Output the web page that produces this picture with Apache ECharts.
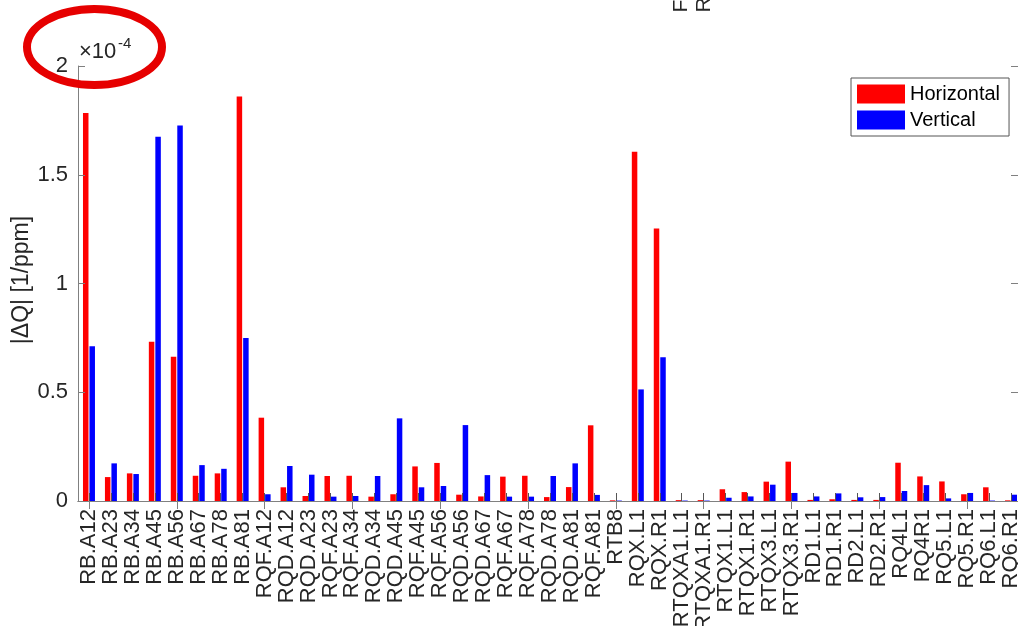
<!DOCTYPE html>
<html>
<head>
<meta charset="utf-8">
<script src="https://cdn.jsdelivr.net/npm/echarts@6/dist/echarts.min.js"></script>
<style>
html,body{margin:0;padding:0;background:#fff;}
#chart{width:1018px;height:626px;}
</style>
</head>
<body>
<div id="chart"></div>
<script>
// Data (values in units of 1e-4 [1/ppm])
const categories = ["RB.A12","RB.A23","RB.A34","RB.A45","RB.A56","RB.A67","RB.A78","RB.A81",
  "RQF.A12","RQD.A12","RQD.A23","RQF.A23","RQF.A34","RQD.A34","RQD.A45","RQF.A45",
  "RQF.A56","RQD.A56","RQD.A67","RQF.A67","RQF.A78","RQD.A78","RQD.A81","RQF.A81",
  "RTB8","RQX.L1","RQX.R1","RTQXA1.L1","RTQXA1.R1","RTQX1.L1","RTQX1.R1","RTQX3.L1",
  "RTQX3.R1","RD1.L1","RD1.R1","RD2.L1","RD2.R1","RQ4L1","RQ4R1","RQ5.L1","RQ5.R1",
  "RQ6.L1","RQ6.R1"];
const horizontal = [1.784,0.110,0.127,0.732,0.663,0.116,0.127,1.860,
  0.383,0.063,0.023,0.115,0.116,0.020,0.031,0.159,
  0.175,0.029,0.021,0.112,0.116,0.018,0.064,0.348,
  0.003,1.606,1.253,0.004,0.004,0.054,0.041,0.089,
  0.181,0.005,0.008,0.005,0.005,0.176,0.113,0.090,0.031,
  0.063,0.003];
const vertical = [0.711,0.173,0.124,1.675,1.727,0.165,0.148,0.749,
  0.031,0.161,0.121,0.020,0.023,0.115,0.380,0.063,
  0.069,0.349,0.119,0.020,0.020,0.115,0.173,0.028,
  0.002,0.513,0.661,0.002,0.002,0.015,0.021,0.075,
  0.037,0.021,0.035,0.017,0.018,0.046,0.073,0.012,0.037,
  0.002,0.029];
const yTicks = [0, 0.5, 1, 1.5, 2];
const seriesNames = ["Horizontal", "Vertical"];
const yLabel = "|\u0394Q| [1/ppm]";
const exponentBase = "\u00d710";
const exponentPower = "-4";

const FONT = "Liberation Sans, Arial, Helvetica, sans-serif";
const TXT = "#262626";
const AX = "#808080";

const chart = echarts.init(document.getElementById('chart'), null, {renderer: 'canvas'});
const yMin = yTicks[0], yMax = yTicks[yTicks.length - 1], yStep = yTicks[1] - yTicks[0];

chart.setOption({
  animation: false,
  backgroundColor: '#fff',
  grid: {left: 78, top: 66, width: 944, height: 435, containLabel: false, outerBoundsMode: 'none'},
  legend: {
    orient: 'vertical', left: 851, top: 78,
    data: seriesNames,
    icon: 'rect', itemWidth: 48, itemHeight: 19, itemGap: 6,
    padding: [6, 9, 6, 6],
    borderColor: '#555', borderWidth: 1, backgroundColor: '#fff',
    textStyle: {fontFamily: FONT, fontSize: 20, color: '#000', lineHeight: 19},
    selectedMode: false
  },
  xAxis: [{
    type: 'category', data: categories, position: 'bottom', z: 10,
    axisLine: {show: true, lineStyle: {color: AX, width: 1}},
    axisTick: {show: true, inside: true, length: 8, alignWithLabel: true, lineStyle: {color: '#555'}},
    axisLabel: {rotate: 90, interval: 0, margin: 8, fontFamily: FONT, fontSize: 22, color: TXT},
    splitLine: {show: false}
  }, {
    type: 'category', data: categories, position: 'top', z: 10,
    axisLine: {show: true, lineStyle: {color: AX, width: 1}},
    axisTick: {show: true, inside: true, length: 8, alignWithLabel: true, lineStyle: {color: AX}},
    axisLabel: {show: false}, splitLine: {show: false}
  }],
  yAxis: [{
    type: 'value', min: yMin, max: yMax, interval: yStep, position: 'left', z: 10,
    axisLine: {show: true, lineStyle: {color: AX, width: 1}},
    axisTick: {show: true, inside: true, length: 7, lineStyle: {color: AX}},
    axisLabel: {margin: 10, fontFamily: FONT, fontSize: 22, color: TXT,
      formatter: v => String(Math.round(v * 100) / 100)},
    splitLine: {show: false}
  }, {
    type: 'value', min: yMin, max: yMax, interval: yStep, position: 'right', offset: -4, z: 10,
    axisLine: {show: true, lineStyle: {color: AX, width: 1}},
    axisTick: {show: true, inside: true, length: 7, lineStyle: {color: AX}},
    axisLabel: {show: false}, splitLine: {show: false}
  }],
  series: [{
    name: seriesNames[0], type: 'bar', data: horizontal,
    xAxisIndex: 0, yAxisIndex: 0,
    barWidth: 5.5, barGap: '18%',
    itemStyle: {color: '#ff0000'}
  }, {
    name: seriesNames[1], type: 'bar', data: vertical,
    xAxisIndex: 0, yAxisIndex: 0,
    barWidth: 5.5, barGap: '18%',
    itemStyle: {color: '#0000ff'}
  }],
  graphic: [
    {type: 'text', x: 22, y: 280, rotation: Math.PI / 2,
      style: {text: yLabel, fontFamily: FONT, fontSize: 23, fill: TXT, align: 'center', verticalAlign: 'middle'}},
    {type: 'text', x: 79, y: 52,
      style: {text: exponentBase, fontFamily: FONT, fontSize: 22, fill: TXT, align: 'left', verticalAlign: 'middle'}},
    {type: 'text', x: 118, y: 44,
      style: {text: exponentPower, fontFamily: FONT, fontSize: 15, fill: TXT, align: 'left', verticalAlign: 'middle'}},
    {type: 'text', x: 681, y: 12.5, rotation: Math.PI / 2,
      style: {text: 'F', fontFamily: FONT, fontSize: 21, fill: TXT, align: 'left', verticalAlign: 'middle'}},
    {type: 'text', x: 704, y: 12.5, rotation: Math.PI / 2,
      style: {text: 'R', fontFamily: FONT, fontSize: 21, fill: TXT, align: 'left', verticalAlign: 'middle'}},
    {type: 'ellipse', z: 100, shape: {cx: 94.5, cy: 47, rx: 67.5, ry: 38},
      style: {fill: null, stroke: '#e60000', lineWidth: 8}}
  ]
});
</script>
</body>
</html>
